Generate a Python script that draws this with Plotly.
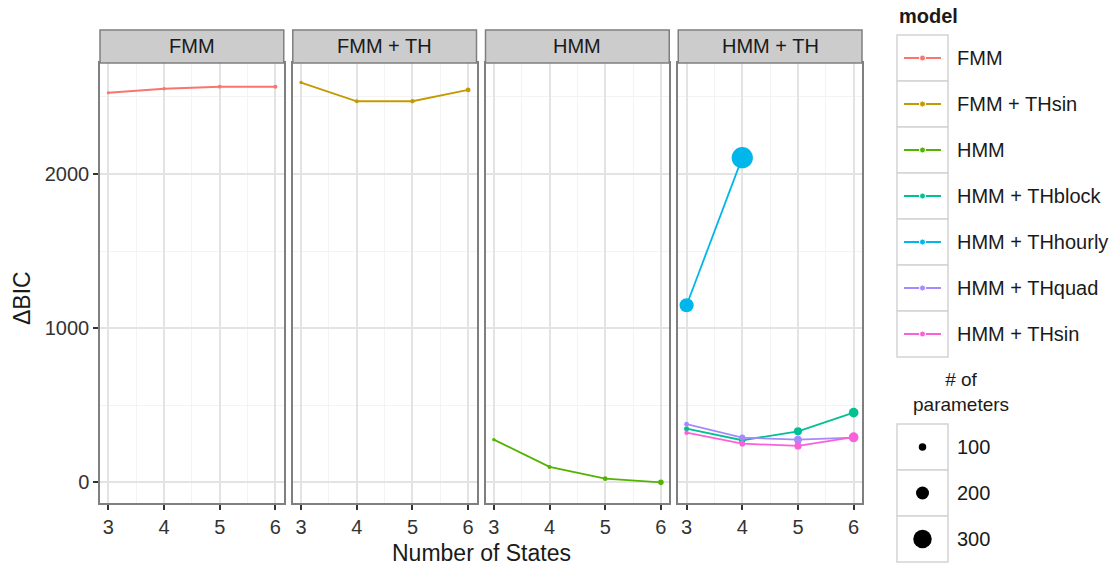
import plotly.graph_objects as go

W, H = 1115, 571

# ---------------- data ----------------
states = [3, 4, 5, 6]
hourly_states = [3, 4]
panels = ["FMM", "FMM + TH", "HMM", "HMM + TH"]
models = ["FMM", "FMM + THsin", "HMM", "HMM + THblock",
          "HMM + THhourly", "HMM + THquad", "HMM + THsin"]
model_colors = ["#F8766D", "#C49A00", "#53B400", "#00C094",
                "#00B6EB", "#A58AFF", "#FB61D7"]

fmm_bic = [2527, 2553, 2566, 2566]
fmm_thsin_bic = [2593, 2472, 2472, 2545]
hmm_bic = [277, 100, 24, 0]
hmm_thblock_bic = [348, 273, 331, 452]
hmm_thhourly_bic = [1149, 2106]
hmm_thquad_bic = [377, 290, 277, 290]
hmm_thsin_bic = [322, 251, 236, 294]

fmm_params = [20, 26, 32, 38]
fmm_thsin_params = [26, 34, 42, 50]
hmm_params = [26, 37, 50, 65]
hmm_thblock_params = [55, 80, 110, 140]
hmm_thhourly_params = [220, 350]
hmm_thquad_params = [50, 75, 105, 135]
hmm_thsin_params = [45, 68, 95, 135]

size_breaks = [100, 200, 300]
x_ticks = [3, 4, 5, 6]
x_minor = [3.5, 4.5, 5.5]
y_ticks = [0, 1000, 2000]
y_minor = [500, 1500, 2500]

# --------------- helpers ---------------
FONT = "Liberation Sans, Arial, sans-serif"


def msize(p):
    return 2 + 0.055 * p


series = [
    ("FMM", 0, states, fmm_bic, fmm_params),
    ("FMM + THsin", 1, states, fmm_thsin_bic, fmm_thsin_params),
    ("HMM", 2, states, hmm_bic, hmm_params),
    ("HMM + THblock", 3, states, hmm_thblock_bic, hmm_thblock_params),
    ("HMM + THhourly", 3, hourly_states, hmm_thhourly_bic, hmm_thhourly_params),
    ("HMM + THquad", 3, states, hmm_thquad_bic, hmm_thquad_params),
    ("HMM + THsin", 3, states, hmm_thsin_bic, hmm_thsin_params),
]

# panel geometry (pixels)
P_LEFT, P_RIGHT, GAP = 100, 862, 9
PW = (P_RIGHT - P_LEFT - 3 * GAP) / 4
P_TOP, P_BOT, S_TOP = 63, 503, 30
LEG_X0 = 880


def px(x):
    return x / W


def py(y):
    return 1 - y / H


fig = go.Figure()

for name, pi, xs, ys, ps in series:
    c = model_colors[models.index(name)]
    ax = "" if pi == 0 else str(pi + 1)
    fig.add_trace(go.Scatter(
        x=xs, y=ys, mode="lines", line=dict(color=c, width=1.8),
        xaxis="x" + ax, yaxis="y" + ax, showlegend=False, hoverinfo="skip"))
for name, pi, xs, ys, ps in series:
    c = model_colors[models.index(name)]
    ax = "" if pi == 0 else str(pi + 1)
    fig.add_trace(go.Scatter(
        x=xs, y=ys, mode="markers",
        marker=dict(color=c, size=[msize(p) for p in ps], opacity=1,
                    line=dict(width=0)),
        xaxis="x" + ax, yaxis="y" + ax, showlegend=False, name=name))

layout = dict(
    width=W, height=H, margin=dict(l=0, r=0, t=0, b=0),
    paper_bgcolor="white", plot_bgcolor="rgba(0,0,0,0)",
    font=dict(family=FONT, color="#333333"),
    showlegend=False,
)

shapes = []
annotations = []
for i in range(4):
    x0 = P_LEFT + i * (PW + GAP)
    x1 = x0 + PW
    sfx = "" if i == 0 else str(i + 1)
    layout["xaxis" + sfx] = dict(
        domain=[px(x0), px(x1)], range=[2.85, 6.15], anchor="y" + sfx,
        tickvals=x_ticks, ticks="outside", ticklen=5, tickwidth=1.5,
        tickcolor="#333333", tickfont=dict(size=20, color="#333333"),
        showline=True, mirror=True, linecolor="#7f7f7f", linewidth=1.5,
        showgrid=True, gridcolor="#e3e3e3", gridwidth=1.5, zeroline=False,
        minor=dict(tickvals=x_minor, showgrid=True, gridcolor="#f3f3f3",
                   gridwidth=1, ticks=""),
    )
    layout["yaxis" + sfx] = dict(
        domain=[py(P_BOT), py(P_TOP)], range=[-134, 2720], anchor="x" + sfx,
        tickvals=y_ticks, ticks="outside" if i == 0 else "",
        showticklabels=(i == 0), ticklen=5, tickwidth=1.5,
        tickcolor="#333333", tickfont=dict(size=20, color="#333333"),
        showline=True, mirror=True, linecolor="#7f7f7f", linewidth=1.5,
        showgrid=True, gridcolor="#e3e3e3", gridwidth=1.5, zeroline=False,
        minor=dict(tickvals=y_minor, showgrid=True, gridcolor="#f3f3f3",
                   gridwidth=1, ticks=""),
    )
    if i > 0:
        layout["yaxis" + sfx]["matches"] = "y"
    shapes.append(dict(type="rect", xref="paper", yref="paper",
                       x0=px(x0), x1=px(x1), y0=py(P_TOP), y1=py(S_TOP),
                       fillcolor="#cccccc", line=dict(color="#7f7f7f", width=1.5)))
    annotations.append(dict(text=panels[i], xref="paper", yref="paper",
                            x=px((x0 + x1) / 2), y=py((S_TOP + P_TOP) / 2),
                            showarrow=False, font=dict(size=20, color="#1a1a1a"),
                            xanchor="center", yanchor="middle"))

# axis titles
annotations.append(dict(text="Number of States", xref="paper", yref="paper",
                        x=px((P_LEFT + P_RIGHT) / 2), y=py(553), showarrow=False,
                        font=dict(size=23, color="#1a1a1a"),
                        xanchor="center", yanchor="middle"))
annotations.append(dict(text="ΔBIC", xref="paper", yref="paper",
                        x=px(22), y=py(298), showarrow=False,
                        textangle=-90, font=dict(size=23, color="#1a1a1a"),
                        xanchor="center", yanchor="middle"))

# ---------- legend (drawn on an overlay axis in pixel units) ----------
layout["xaxis5"] = dict(domain=[px(LEG_X0), 1], range=[LEG_X0, W], visible=False,
                        anchor="y5", fixedrange=True)
layout["yaxis5"] = dict(domain=[0, 1], range=[H, 0], visible=False,
                        anchor="x5", fixedrange=True)

KX0, KX1 = 897, 948
ROW = 46
LAB_X = 955
annotations.append(dict(text="<b>model</b>", xref="paper", yref="paper",
                        x=px(KX0), y=py(16), showarrow=False,
                        font=dict(size=20, color="#1a1a1a"),
                        xanchor="left", yanchor="middle"))
top = 35
for k, m in enumerate(models):
    y0 = top + k * ROW
    yc = y0 + ROW / 2
    shapes.append(dict(type="rect", xref="paper", yref="paper", layer="below",
                       x0=px(KX0), x1=px(KX1), y0=py(y0 + ROW), y1=py(y0),
                       fillcolor="white", line=dict(color="#d4d4d4", width=1.5)))
    fig.add_trace(go.Scatter(
        x=[KX0 + 7, (KX0 + KX1) / 2, KX1 - 7], y=[yc, yc, yc],
        mode="lines+markers", line=dict(color=model_colors[k], width=1.8),
        marker=dict(size=[0, 6, 0], color=model_colors[k], opacity=1),
        xaxis="x5", yaxis="y5", showlegend=False, hoverinfo="skip"))
    annotations.append(dict(text=m, xref="paper", yref="paper",
                            x=px(LAB_X), y=py(yc), showarrow=False,
                            font=dict(size=20, color="#1a1a1a"),
                            xanchor="left", yanchor="middle"))

annotations.append(dict(text="# of<br>parameters", xref="paper", yref="paper",
                        x=px(961), y=py(392), showarrow=False, align="center",
                        font=dict(size=19, color="#1a1a1a"),
                        xanchor="center", yanchor="middle"))
top2 = 424
for k, b in enumerate(size_breaks):
    y0 = top2 + k * ROW
    yc = y0 + ROW / 2
    shapes.append(dict(type="rect", xref="paper", yref="paper", layer="below",
                       x0=px(KX0), x1=px(KX1), y0=py(y0 + ROW), y1=py(y0),
                       fillcolor="white", line=dict(color="#d4d4d4", width=1.5)))
    fig.add_trace(go.Scatter(
        x=[(KX0 + KX1) / 2], y=[yc], mode="markers",
        marker=dict(size=msize(b), color="black", opacity=1, line=dict(width=0)),
        xaxis="x5", yaxis="y5", showlegend=False, hoverinfo="skip"))
    annotations.append(dict(text=str(b), xref="paper", yref="paper",
                            x=px(LAB_X), y=py(yc), showarrow=False,
                            font=dict(size=20, color="#1a1a1a"),
                            xanchor="left", yanchor="middle"))

layout["shapes"] = shapes
layout["annotations"] = annotations
fig.update_layout(**layout)
fig.write_html("out.html")
